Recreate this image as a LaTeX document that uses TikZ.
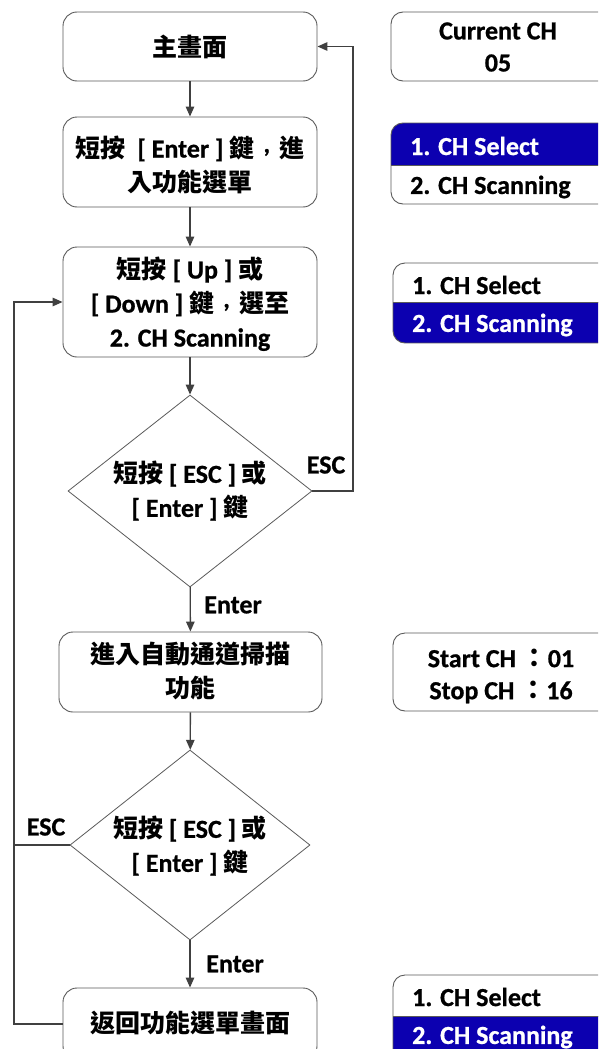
\documentclass[tikz,border=0pt]{standalone}
\usepackage{fontspec}
\setmainfont{Carlito}[BoldFeatures={FakeBold=0.8}]
\newfontfamily\cjkf{Noto Sans CJK TC}
\usetikzlibrary{arrows.meta,shapes.geometric}
\newcommand\zh[1]{{\cjkf\bfseries\fontsize{25}{34}\selectfont #1}}
\newcommand\zcomma{\makebox[1em][c]{\raisebox{0.2em}{\rmfamily\bfseries ,}}}
\definecolor{hlblue}{RGB}{12,0,176}
\definecolor{linegray}{RGB}{64,64,64}
\definecolor{boxgray}{RGB}{90,90,90}
\tikzset{
  flowbox/.style={draw=boxgray, line width=0.9pt, rounded corners=14pt, fill=white,
    minimum width=254pt, inner sep=0pt, align=center},
  decbox/.style={draw=boxgray, line width=0.8pt, diamond, inner sep=0pt,
    minimum width=244pt, minimum height=192pt},
  txt/.style={font=\bfseries\fontsize{26}{34}\selectfont, align=center, inner sep=0pt},
  lbl/.style={font=\bfseries\fontsize{26}{30}\selectfont, inner sep=0pt},
  conn/.style={draw=linegray, line width=1.3pt},
  arr/.style={conn, -{Triangle[length=10pt,width=8.5pt]}},
  panel/.style={draw=boxgray, line width=0.9pt, rounded corners=12pt},
  ptxt/.style={font=\bfseries\fontsize{26}{30}\selectfont, inner sep=0pt},
}
\begin{document}
\begin{tikzpicture}[x=1pt,y=-1pt]
\useasboundingbox (0,0) rectangle (598,1049);
\clip (0,0) rectangle (598,1049);
\fill[white] (0,0) rectangle (598,1049);

% flow boxes
\node[flowbox, minimum height=69pt] (b1) at (190,46.5) {};
\node[txt] (t1) at (190,47) {\zh{主畫面}};
\node[flowbox, minimum height=90pt] (b2) at (190,162) {};
\node[txt] (t2) at (190,165) {\zh{短按}\ \ [ Enter ] \zh{鍵\zcomma 進}\\\zh{入功能選單}};
\node[flowbox, minimum height=110pt] (b3) at (190,302) {};
\node[txt] (t3) at (190,304) {\zh{短按} [ Up ] \zh{或}\\{[} Down ] \zh{鍵\zcomma 選至}\\2. CH Scanning};
\node[decbox] (d1) at (190,491) {};
\node[txt] (t4) at (190,491) {\zh{短按} [ ESC ] \zh{或}\\{[} Enter ] \zh{鍵}};
\node[flowbox, minimum width=263pt, minimum height=80pt] (b4) at (190.5,672) {};
\node[txt] (t5) at (190,671) {\zh{進入自動通道掃描}\\\zh{功能}};
\node[decbox, minimum width=240pt, minimum height=190pt] (d2) at (190,845) {};
\node[txt] (t6) at (190,846) {\zh{短按} [ ESC ] \zh{或}\\{[} Enter ] \zh{鍵}};
\node[flowbox, minimum height=72pt] (b5) at (190,1024) {};
\node[txt] (t7) at (190,1023) {\zh{返回功能選單畫面}};

% connectors
\draw[arr] (b1) -- (b2);
\draw[arr] (b2) -- (b3);
\draw[arr] (b3) -- (d1);
\draw[arr] (d1) -- (b4);
\draw[arr] (b4) -- (d2);
\draw[arr] (d2) -- (b5);
\coordinate (r1) at (353,46.5);
\draw[arr] (d1.east) -| (r1) -- (b1.east);
\coordinate (l1) at (14,302);
\draw[arr] (b5.west) -| (l1) -- (b3.west);
\draw[conn] (d2.west) -- (d2.west -| l1);

\node[lbl] (e1) at (326,465) {ESC};
\node[lbl] (e2) at (46,827) {ESC};
\node[lbl] (n1) at (233,605) {Enter};
\node[lbl] (n2) at (235,964) {Enter};

% panels
\draw[panel] (391,12) rectangle (620,81);
\node[ptxt, align=center] (p1) at (498,47) {Current CH\\[2pt]05};

\begin{scope}
\clip[rounded corners=12pt] (391,123) rectangle (620,204);
\fill[hlblue] (391,123) rectangle (620,165);
\end{scope}
\draw[boxgray, line width=0.6pt] (391,165) -- (620,165);
\draw[panel] (391,123) rectangle (620,204);
\node[ptxt, text=white, anchor=west] (p2a) at (410,146) {1. CH Select};
\node[ptxt, anchor=west] (p2b) at (410,187) {2. CH Scanning};

\begin{scope}
\clip[rounded corners=12pt] (393,263) rectangle (620,343);
\fill[hlblue] (393,302) rectangle (620,343);
\end{scope}
\draw[boxgray, line width=0.6pt] (393,302) -- (620,302);
\draw[panel] (393,263) rectangle (620,343);
\node[ptxt, anchor=west] (p3a) at (412,285) {1. CH Select};
\node[ptxt, text=white, anchor=west] (p3b) at (412,325) {2. CH Scanning};

\draw[panel] (393,633) rectangle (620,711);
\node[ptxt] (p4a) at (501,658) {Start CH {\cjkf\bfseries：}01};
\node[ptxt] (p4b) at (501,692) {Stop CH {\cjkf\bfseries：}16};

\begin{scope}
\clip[rounded corners=12pt] (393,975) rectangle (620,1080);
\fill[hlblue] (393,1016) rectangle (620,1080);
\end{scope}
\draw[boxgray, line width=0.6pt] (393,1016) -- (620,1016);
\draw[panel] (393,975) rectangle (620,1080);
\node[ptxt, anchor=west] (p5a) at (412,997) {1. CH Select};
\node[ptxt, text=white, anchor=west] (p5b) at (412,1037) {2. CH Scanning};
\end{tikzpicture}
\end{document}
